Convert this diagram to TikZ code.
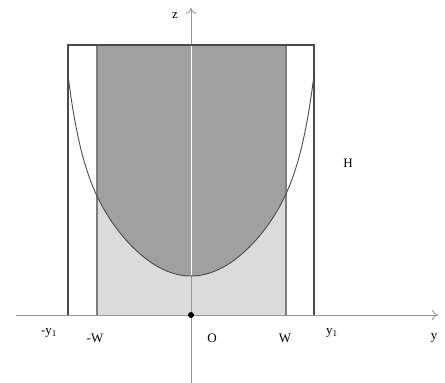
\documentclass[tikz,border=0pt]{standalone}
\usepackage{fontspec}
\setmainfont{Liberation Serif}
\usetikzlibrary{arrows.meta}
\definecolor{darkfill}{RGB}{160,160,160}
\definecolor{lightfill}{RGB}{219,219,219}
\definecolor{axisgray}{RGB}{150,150,150}
\definecolor{innergray}{RGB}{125,125,125}
\definecolor{outergray}{RGB}{75,75,75}
\newcommand\parcurve{plot[domain=-123:123, samples=121] ({191+\x}, {276 - 0.0085*\x*\x - 66.5*(((\x/122)^2)^5)})}
\begin{document}
\begin{tikzpicture}[x=1pt,y=-1pt,
  lbl/.style={font=\fontsize{13}{15}\selectfont, inner sep=0pt},
  axisline/.style={draw=axisgray, line width=0.9pt},
  innerline/.style={draw=innergray, line width=1.2pt},
  outerline/.style={draw=outergray, line width=1.1pt},
  curveline/.style={draw=outergray, line width=0.9pt}]
\useasboundingbox (0,0) rectangle (445,383);
% fills
\fill[lightfill] (97,45) rectangle (286,315);
\begin{scope}
  \clip (97,45) rectangle (286,315);
  \fill[darkfill] \parcurve -- (314,30) -- (68,30) -- cycle;
\end{scope}
% axes
\coordinate (xs) at (16,315);
\coordinate (xe) at (438,315);
\coordinate (zs) at (191,383);
\coordinate (ze) at (191,8);
\coordinate (O) at (191,315);
\draw[axisline, -{To[length=6pt,width=10pt]}] (xs) -- (xe);
\draw[axisline, -{To[length=6pt,width=10pt]}] (zs) -- (ze);
\draw[white, line width=1pt] (191,46) -- (191,275);
% rectangles
\draw[innerline] (97,45) -- (97,315);
\draw[innerline] (286,45) -- (286,315);
\draw[outerline] (68,315) -- (68,45) -- (314,45) -- (314,315);
% curve
\draw[curveline] \parcurve;
% origin dot
\fill[black] (O) circle (3);
% labels
\node[lbl] (lz) at (175,16) {z};
\node[lbl] (lH) at (348,163) {H};
\node[lbl] (lmy) at (49,333) {-y\textsubscript{1}};
\node[lbl] (lmW) at (95,338) {-W};
\node[lbl] (lO) at (212,338) {O};
\node[lbl] (lW) at (285,338) {W};
\node[lbl] (ly1) at (332,333) {y\textsubscript{1}};
\node[lbl] (ly) at (434,338) {y};
\end{tikzpicture}
\end{document}
